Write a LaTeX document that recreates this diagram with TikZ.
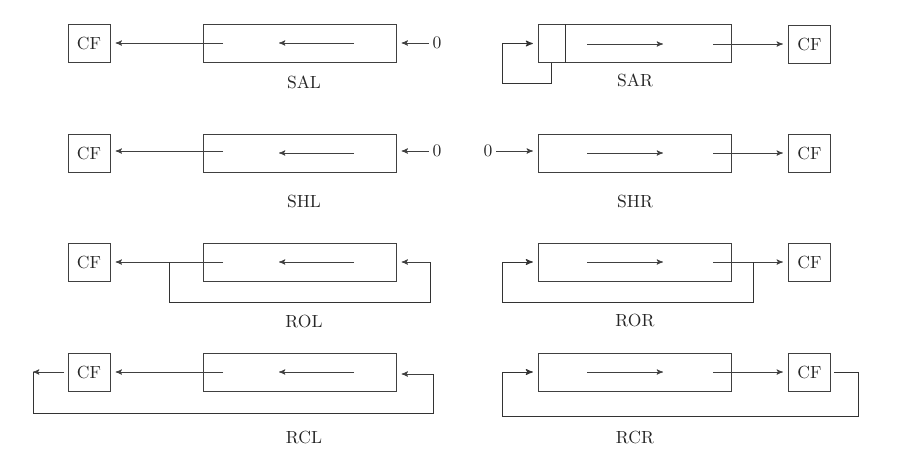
\documentclass[tikz,border=0pt]{standalone}
\usetikzlibrary{arrows,calc,positioning}
\tikzset{
    >=stealth',
    reg/.style={
           draw=black!75,
           minimum width=3.86cm,
           minimum height=0.76cm,
           inner sep=0pt},
    cfbox/.style={
           draw=black!75,
           minimum width=0.84cm,
           minimum height=0.76cm,
           inner sep=0pt,
           text=black!85},
    lbl/.style={
           text=black!85},
    pil/.style={
           ->,
           draw=black!75},
    gap/.style={
           shorten >=3pt},
    lin/.style={
           draw=black!80,
           line width=0.55pt}
}

\begin{document}
\begin{tikzpicture}[x=0.02cm, y=-0.02cm]
        \useasboundingbox (0,0) rectangle (897,458);

        % SAL
        \node[reg] (sal) at (299.5,43) {};
        \node[cfbox] (salcf) at (89,43) {CF};
        \node[lbl] (sallbl) at (304,82) {SAL};
        \node[lbl, inner sep=2pt] (salzero) at (437,43) {0};
        \coordinate (salout) at (223,43);
        \coordinate (salin1) at (354,43);
        \coordinate (salin2) at (279,43);

        \draw[pil, gap] (salout) -- (salcf);
        \draw[pil] (salin1) -- (salin2);
        \draw[pil, gap] (salzero) -- (sal);

        % SAR
        \node[reg] (sar) at (635,43.5) {};
        \node[cfbox] (sarcf) at (809.5,44) {CF};
        \node[lbl] (sarlbl) at (635,80) {SAR};
        \coordinate (sarout) at (713,44);
        \coordinate (sarin1) at (587,44);
        \coordinate (sarin2) at (663,44);
        \coordinate (sarmsb) at ($(sar.south west)+(13,0)$);

        \draw[lin] ($(sar.north west)+(27,0)$) -- ($(sar.south west)+(27,0)$);
        \draw[pil] (sarin1) -- (sarin2);
        \draw[pil, gap] (sarout) -- (sarcf);
        \draw[pil, lin, gap] (sarmsb) |- (502,83) |- (sar.west);

        % SHL
        \node[reg] (shl) at (299.5,153) {};
        \node[cfbox] (shlcf) at (89,153) {CF};
        \node[lbl] (shllbl) at (304,201) {SHL};
        \node[lbl, inner sep=2pt] (shlzero) at (437,151) {0};
        \coordinate (shlout) at (223,151);
        \coordinate (shlin1) at (354,153);
        \coordinate (shlin2) at (279,153);

        \draw[pil, gap] (shlout) -- (shlcf.east |- shlout);
        \draw[pil] (shlin1) -- (shlin2);
        \draw[pil, gap] (shlzero) -- (shl.east |- shlzero);

        % SHR
        \node[reg] (shr) at (635,153) {};
        \node[cfbox] (shrcf) at (809.5,153) {CF};
        \node[lbl] (shrlbl) at (635,201) {SHR};
        \node[lbl, inner sep=2pt] (shrzero) at (488,151) {0};
        \coordinate (shrout) at (713,153);
        \coordinate (shrin1) at (587,153);
        \coordinate (shrin2) at (663,153);

        \draw[pil, gap] (shrzero) -- (shr.west |- shrzero);
        \draw[pil] (shrin1) -- (shrin2);
        \draw[pil, gap] (shrout) -- (shrcf);

        % ROL
        \node[reg] (rol) at (299.5,262) {};
        \node[cfbox] (rolcf) at (89,262) {CF};
        \node[lbl] (rollbl) at (304,321) {ROL};
        \coordinate (rolout) at (223,262);
        \coordinate (rolin1) at (354,262);
        \coordinate (rolin2) at (279,262);
        \coordinate (rolr) at (430,262);
        \coordinate (roll) at (169,262);

        \draw[pil, gap] (rolout) -- (rolcf);
        \draw[pil] (rolin1) -- (rolin2);
        \draw[pil, gap] (rolr) -- (rol);
        \draw[lin] (rolr) -- ++(0,40) -| (roll);

        % ROR
        \node[reg] (ror) at (635,262) {};
        \node[cfbox] (rorcf) at (809.5,262) {CF};
        \node[lbl] (rorlbl) at (635,320) {ROR};
        \coordinate (rorout) at (713,262);
        \coordinate (rorin1) at (587,262);
        \coordinate (rorin2) at (663,262);
        \coordinate (rorr) at (753,262);

        \draw[pil] (rorin1) -- (rorin2);
        \draw[pil, gap] (rorout) -- (rorcf);
        \draw[pil, lin, gap] (rorr) |- (502,302) |- (ror.west);

        % RCL
        \node[reg] (rcl) at (299.5,372) {};
        \node[cfbox] (rclcf) at (89,372) {CF};
        \node[lbl] (rcllbl) at (304,437) {RCL};
        \coordinate (rclout) at (223,372);
        \coordinate (rclin1) at (354,372);
        \coordinate (rclin2) at (279,372);
        \coordinate (rclr) at (433,374);
        \coordinate (rclcorner) at (33,372);

        \draw[pil, gap] (rclout) -- (rclcf);
        \draw[pil] (rclin1) -- (rclin2);
        \draw[pil, gap] (rclr) -- (rcl.east |- rclr);
        \draw[pil, shorten <=2pt] (rclcf) -- (rclcorner);
        \draw[lin] (rclcorner) |- (433,413) -- (rclr);

        % RCR
        \node[reg] (rcr) at (635,372) {};
        \node[cfbox] (rcrcf) at (809.5,372) {CF};
        \node[lbl] (rcrlbl) at (635,437) {RCR};
        \coordinate (rcrout) at (713,372);
        \coordinate (rcrin1) at (587,372);
        \coordinate (rcrin2) at (663,372);

        \draw[pil] (rcrin1) -- (rcrin2);
        \draw[pil, gap] (rcrout) -- (rcrcf);
        \draw[pil, lin, gap, shorten <=2pt] (rcrcf.east) -| (858,416) -- (502,416) |- (rcr.west);

    \end{tikzpicture}
\end{document}
